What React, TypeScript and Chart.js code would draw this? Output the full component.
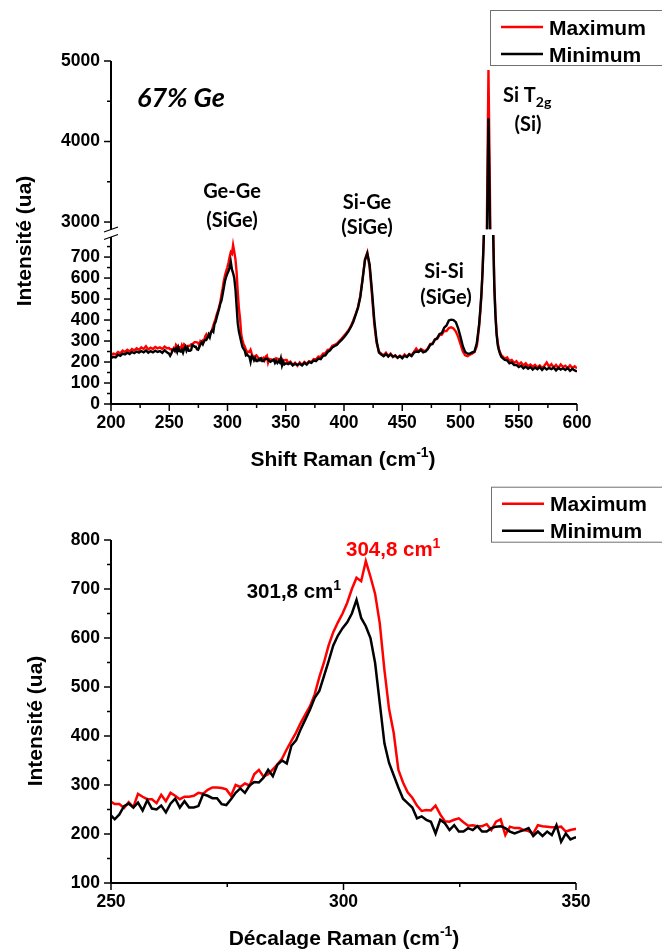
import React, { useEffect, useRef } from "react";
import { Chart, registerables } from "chart.js";

Chart.register(...registerables);

const RED = "#ff0000";
const BLACK = "#000000";
const SANS = '"Liberation Sans", Arial, sans-serif';
const CAL = 'Lato, "Open Sans", sans-serif';

// ---------- data: zoomed region (shared by both panels), shift = 249.8 + i ----------
const ZOOM_START = 249.8;
const ZOOM_STEP = 1;
const ZOOM_MAX = [
  267, 261, 261, 253, 265, 255, 282, 276, 271, 271,
  263, 280, 267, 284, 278, 271, 276, 276, 278, 284,
  282, 290, 295, 295, 294, 291, 278, 300, 296, 303,
  299, 322, 331, 317, 322, 332, 342, 354, 373, 390,
  407, 427, 444, 461, 485, 520, 550, 585, 612, 632,
  650, 672, 700, 723, 716, 757, 725, 690, 630, 535,
  455, 406, 331, 305, 285, 274, 258, 247, 249, 248,
  258, 240, 226, 225, 229, 232, 224, 217, 218, 216,
  216, 220, 208, 225, 230, 198, 215, 212, 212, 208,
  206, 201, 218, 216, 215, 214, 214, 215, 205, 208,
  210, 210,
];
const ZOOM_MIN = [
  240, 230, 240, 257, 262, 254, 264, 248, 269, 252,
  250, 258, 244, 262, 272, 254, 267, 254, 254, 257,
  281, 278, 273, 273, 261, 259, 271, 284, 293, 284,
  299, 306, 305, 315, 331, 318, 342, 350, 344, 380,
  391, 414, 434, 454, 478, 492, 522, 553, 585, 605,
  620, 632, 650, 678, 641, 624, 600, 549, 467, 385,
  345, 320, 295, 272, 263, 254, 232, 236, 229, 225,
  201, 229, 222, 208, 218, 205, 205, 212, 208, 216,
  205, 205, 212, 215, 216, 212, 205, 201, 205, 208,
  212, 196, 205, 196, 205, 198, 218, 184, 201, 189,
  193, 193,
];

// ---------- data: wide spectrum (top panel) outside the zoomed region ----------
const WIDE_A_START = 200;
const WIDE_A_STEP = 2;
const WIDE_A_MAX = [232, 240, 236, 248, 242, 255, 248, 258, 250, 262, 255, 265, 258, 270, 262, 275, 260, 268, 262, 272, 265, 270, 262, 274, 266];
const WIDE_A_MIN = [218, 225, 222, 235, 230, 240, 236, 244, 238, 248, 242, 250, 245, 252, 246, 255, 244, 252, 246, 254, 248, 252, 244, 256, 246];

const WIDE_C_START = 352;
const WIDE_C_STEP = 2;
const WIDE_C_MAX = [
  195, 202, 186, 196, 182, 198, 186, 200, 192, 204,
  200, 214, 212, 226, 224, 240, 242, 258, 260, 278,
  282, 288, 300, 312, 325, 338, 352, 372, 398, 428,
  462, 515, 600, 690, 722, 650, 520, 380, 290, 250,
  240, 232, 244, 228, 240, 224, 232, 220, 230, 222,
  236, 226, 238, 232, 248, 264, 250, 262, 256, 252,
  266, 286, 288, 308, 310, 328, 330, 348, 348, 362,
  365, 360, 345, 320, 285, 250, 232, 228, 235, 240,
  248, 275,
];
const WIDE_C_MIN = [
  190, 196, 184, 192, 186, 192, 184, 196, 188, 200,
  196, 208, 204, 216, 214, 230, 232, 248, 256, 270,
  276, 282, 295, 305, 318, 332, 348, 368, 392, 425,
  458, 510, 595, 685, 717, 665, 540, 400, 300, 245,
  236, 228, 238, 226, 236, 226, 230, 220, 228, 218,
  230, 224, 236, 228, 244, 250, 248, 258, 246, 250,
  262, 282, 286, 306, 314, 334, 338, 364, 374, 398,
  402, 400, 390, 360, 320, 275, 248, 240, 240, 246,
  250, 290,
];

const WIDE_D_START = 515;
const WIDE_D_STEP = 1;
const WIDE_D_MAX = [320, 370, 440, 520, 640, 800, 1150, 2000, 3500, 4888, 3700, 2400, 1150, 850, 580, 430, 340, 290, 262, 245, 232];
const WIDE_D_MIN = [335, 380, 450, 530, 640, 790, 1100, 1800, 3100, 4288, 3300, 2100, 1050, 820, 560, 420, 330, 280, 255, 238, 225];

const WIDE_E_START = 536;
const WIDE_E_STEP = 2;
const WIDE_E_MAX = [228, 215, 222, 205, 210, 196, 204, 188, 198, 184, 194, 180, 188, 178, 186, 174, 184, 172, 182, 198, 178, 190, 174, 186, 172, 188, 176, 182, 170, 184, 172, 180, 170];
const WIDE_E_MIN = [220, 210, 208, 194, 198, 186, 186, 176, 182, 170, 178, 168, 176, 164, 174, 166, 176, 162, 174, 164, 172, 166, 174, 160, 172, 164, 170, 162, 172, 158, 168, 160, 155];

// ---------- ticks ----------
const TOP_X_TICKS = [200, 250, 300, 350, 400, 450, 500, 550, 600];
const TOP_X_MINOR = [225, 275, 325, 375, 425, 475, 525, 575];
const TOP_LOW_TICKS = [0, 100, 200, 300, 400, 500, 600, 700];
const TOP_LOW_MINOR = [50, 150, 250, 350, 450, 550, 650, 750];
const TOP_HIGH_TICKS = [3000, 4000, 5000];
const TOP_HIGH_MINOR = [3500, 4500];
const BOT_X_TICKS = [250, 300, 350];
const BOT_X_MINOR = [275, 325];
const BOT_Y_TICKS = [100, 200, 300, 400, 500, 600, 700, 800];
const BOT_Y_MINOR = [150, 250, 350, 450, 550, 650, 750];

const LEGEND_LABELS = ["Maximum", "Minimum"];
const LEGEND_COLORS = [RED, BLACK];

function pts(start: number, step: number, vals: number[]) {
  return vals.map((y, i) => ({ x: Math.round((start + i * step) * 100) / 100, y }));
}

const TOP_MAX = [
  ...pts(WIDE_A_START, WIDE_A_STEP, WIDE_A_MAX),
  ...pts(ZOOM_START, ZOOM_STEP, ZOOM_MAX),
  ...pts(WIDE_C_START, WIDE_C_STEP, WIDE_C_MAX),
  ...pts(WIDE_D_START, WIDE_D_STEP, WIDE_D_MAX),
  ...pts(WIDE_E_START, WIDE_E_STEP, WIDE_E_MAX),
];
const TOP_MIN = [
  ...pts(WIDE_A_START, WIDE_A_STEP, WIDE_A_MIN),
  ...pts(ZOOM_START, ZOOM_STEP, ZOOM_MIN),
  ...pts(WIDE_C_START, WIDE_C_STEP, WIDE_C_MIN),
  ...pts(WIDE_D_START, WIDE_D_STEP, WIDE_D_MIN),
  ...pts(WIDE_E_START, WIDE_E_STEP, WIDE_E_MIN),
];
const BOT_MAX = pts(ZOOM_START, ZOOM_STEP, ZOOM_MAX);
const BOT_MIN = pts(ZOOM_START, ZOOM_STEP, ZOOM_MIN);

// ---------- drawing helpers ----------
type Part = { t: string; font: string; dy?: number };

function drawParts(ctx: CanvasRenderingContext2D, parts: Part[], x: number, y: number, align: "left" | "center", color: string) {
  ctx.save();
  ctx.fillStyle = color;
  ctx.textBaseline = "alphabetic";
  ctx.textAlign = "left";
  let total = 0;
  const widths = parts.map((p) => {
    ctx.font = p.font;
    const w = ctx.measureText(p.t).width;
    total += w;
    return w;
  });
  let cx = align === "left" ? x : x - total / 2;
  parts.forEach((p, i) => {
    ctx.font = p.font;
    ctx.fillText(p.t, cx, y + (p.dy || 0));
    cx += widths[i];
  });
  ctx.restore();
}

function line(ctx: CanvasRenderingContext2D, x1: number, y1: number, x2: number, y2: number) {
  ctx.beginPath();
  ctx.moveTo(x1, y1);
  ctx.lineTo(x2, y2);
  ctx.stroke();
}

function drawLegend(ctx: CanvasRenderingContext2D, left: number, top: number) {
  ctx.save();
  ctx.strokeStyle = "#707070";
  ctx.lineWidth = 1;
  ctx.strokeRect(left + 0.5, top + 0.5, 200, 55);
  const rows = [17, 44];
  LEGEND_LABELS.forEach((lab, i) => {
    ctx.strokeStyle = LEGEND_COLORS[i];
    ctx.lineWidth = 2.5;
    line(ctx, left + 11, top + rows[i], left + 53, top + rows[i]);
    ctx.fillStyle = "#000";
    ctx.font = `bold 21px ${SANS}`;
    ctx.textBaseline = "alphabetic";
    ctx.textAlign = "left";
    ctx.fillText(lab, left + 59, top + rows[i] + 7.5);
  });
  ctx.restore();
}

function drawYTitle(ctx: CanvasRenderingContext2D, baselineX: number, centerY: number) {
  ctx.save();
  ctx.translate(baselineX, centerY);
  ctx.rotate(-Math.PI / 2);
  drawParts(ctx, [{ t: "Intensité (ua)", font: `bold 21px ${SANS}` }], 0, 0, "center", "#000");
  ctx.restore();
}

function xTitle(ctx: CanvasRenderingContext2D, text: string, cx: number, baseline: number) {
  drawParts(
    ctx,
    [
      { t: text + " (cm", font: `bold 21px ${SANS}` },
      { t: "-1", font: `bold 14px ${SANS}`, dy: -9 },
      { t: ")", font: `bold 21px ${SANS}` },
    ],
    cx,
    baseline,
    "center",
    "#000"
  );
}

const clipPlugin = {
  id: "segmentClip",
  beforeDatasetDraw(chart: any, args: any) {
    const meta = chart.getDatasetMeta(args.index);
    const ys = meta.yScale;
    const ca = chart.chartArea;
    let top = ys.top;
    let bottom = ys.bottom;
    if (ys.id === "yHigh") bottom = ys.bottom - 3.2;
    if (ys.id === "yLow") top = ys.top + 2.5;
    const ctx = chart.ctx;
    ctx.save();
    ctx.beginPath();
    ctx.rect(ca.left, top, ca.right - ca.left, bottom - top);
    ctx.clip();
  },
  afterDatasetDraw(chart: any) {
    chart.ctx.restore();
  },
};

const topPainter = {
  id: "topPainter",
  afterDraw(chart: any) {
    const ctx: CanvasRenderingContext2D = chart.ctx;
    const x = chart.scales.x;
    const yl = chart.scales.yLow;
    const yh = chart.scales.yHigh;
    const left = x.left;
    const bottom = yl.bottom;
    const B = yl.top;
    ctx.save();
    ctx.strokeStyle = "#000";
    ctx.lineWidth = 2;
    line(ctx, left - 1, bottom, x.right, bottom);
    line(ctx, left, bottom + 1, left, B + 4.5);
    line(ctx, left, yh.top, left, B - 3);
    ctx.lineWidth = 1.5;
    TOP_X_TICKS.forEach((v) => { const p = x.getPixelForValue(v); line(ctx, p, bottom, p, bottom + 7); });
    TOP_X_MINOR.forEach((v) => { const p = x.getPixelForValue(v); line(ctx, p, bottom, p, bottom + 4); });
    TOP_LOW_TICKS.forEach((v) => { const p = yl.getPixelForValue(v); line(ctx, left, p, left - 7, p); });
    TOP_LOW_MINOR.forEach((v) => { const p = yl.getPixelForValue(v); line(ctx, left, p, left - 4, p); });
    TOP_HIGH_TICKS.forEach((v) => { const p = yh.getPixelForValue(v); line(ctx, left, p, left - 7, p); });
    TOP_HIGH_MINOR.forEach((v) => { const p = yh.getPixelForValue(v); line(ctx, left, p, left - 4, p); });
    // axis break marks
    ctx.lineWidth = 1.3;
    line(ctx, left - 7, B - 0.5, left + 7, B - 5.5);
    line(ctx, left - 7, B + 7, left + 7, B + 2);
    ctx.restore();

    drawYTitle(ctx, 31, 241);
    xTitle(ctx, "Shift Raman", 343, 466);

    drawParts(ctx, [{ t: "67% Ge", font: `italic bold 27px ${CAL}` }], 137, 107, "left", "#000");

    const lab = `bold 20px ${CAL}`;
    drawParts(ctx, [{ t: "Ge-Ge", font: lab }], 232, 198, "center", "#000");
    drawParts(ctx, [{ t: "(SiGe)", font: lab }], 232, 226.5, "center", "#000");
    drawParts(ctx, [{ t: "Si-Ge", font: lab }], 367, 208.5, "center", "#000");
    drawParts(ctx, [{ t: "(SiGe)", font: lab }], 367, 233.5, "center", "#000");
    drawParts(ctx, [{ t: "Si-Si", font: lab }], 444, 277.5, "center", "#000");
    drawParts(ctx, [{ t: "(SiGe)", font: lab }], 446, 303.5, "center", "#000");
    drawParts(ctx, [{ t: "Si T", font: lab }, { t: "2g", font: `bold 14px ${CAL}`, dy: 5 }], 503, 101.7, "left", "#000");
    drawParts(ctx, [{ t: "(Si)", font: lab }], 528, 130.7, "center", "#000");

    drawLegend(ctx, 490, 10);
  },
};

const bottomPainter = {
  id: "bottomPainter",
  afterDraw(chart: any) {
    const ctx: CanvasRenderingContext2D = chart.ctx;
    const x = chart.scales.x;
    const y = chart.scales.y;
    const left = x.left;
    const bottom = y.bottom;
    ctx.save();
    ctx.strokeStyle = "#000";
    ctx.lineWidth = 2;
    line(ctx, left - 1, bottom, x.right, bottom);
    line(ctx, left, bottom + 1, left, y.top);
    ctx.lineWidth = 1.5;
    BOT_X_TICKS.forEach((v) => { const p = x.getPixelForValue(v); line(ctx, p, bottom, p, bottom + 7); });
    BOT_X_MINOR.forEach((v) => { const p = x.getPixelForValue(v); line(ctx, p, bottom, p, bottom + 4); });
    BOT_Y_TICKS.forEach((v) => { const p = y.getPixelForValue(v); line(ctx, left, p, left - 7, p); });
    BOT_Y_MINOR.forEach((v) => { const p = y.getPixelForValue(v); line(ctx, left, p, left - 4, p); });
    ctx.restore();

    drawYTitle(ctx, 41.5, 241);
    xTitle(ctx, "Décalage Raman", 344, 465);

    const f = `bold 20.5px ${SANS}`;
    const s = `bold 14px ${SANS}`;
    drawParts(ctx, [{ t: "304,8 cm", font: f }, { t: "1", font: s, dy: -8 }], 346, 75.7, "left", RED);
    drawParts(ctx, [{ t: "301,8 cm", font: f }, { t: "1", font: s, dy: -8 }], 246.7, 118.3, "left", BLACK);

    drawLegend(ctx, 491, 6.7);
  },
};

const tickFont = { family: SANS, size: 17.5, weight: "bold" as const };

function yScale(min: number, max: number, ticks: number[], extra: any = {}) {
  return {
    type: "linear",
    position: "left",
    min,
    max,
    afterBuildTicks: (s: any) => { s.ticks = ticks.map((v) => ({ value: v })); },
    afterFit: (s: any) => { s.width = 111; },
    grid: { display: false, drawTicks: false },
    border: { display: false },
    ticks: { font: tickFont, color: "#000", padding: 11, autoSkip: false, callback: (v: any) => String(v) },
    ...extra,
  };
}

function xScale(min: number, max: number, ticks: number[]) {
  return {
    type: "linear",
    position: "bottom",
    min,
    max,
    afterBuildTicks: (s: any) => { s.ticks = ticks.map((v) => ({ value: v })); },
    afterFit: (s: any) => { s.height = 30; },
    grid: { display: false, drawTicks: false },
    border: { display: false },
    ticks: { font: tickFont, color: "#000", padding: 9, autoSkip: false, maxRotation: 0, callback: (v: any) => String(v) },
  };
}

function ds(label: string, data: any[], color: string, yAxisID: string, width: number, order: number) {
  return {
    label,
    data,
    borderColor: color,
    backgroundColor: color,
    borderWidth: width,
    pointRadius: 0,
    tension: 0,
    fill: false,
    yAxisID,
    order,
  };
}

export default function App() {
  const topRef = useRef<HTMLCanvasElement>(null);
  const botRef = useRef<HTMLCanvasElement>(null);

  useEffect(() => {
    const common = {
      animation: false,
      responsive: false,
      events: [],
      plugins: { legend: { display: false }, tooltip: { enabled: false } },
    };
    const top = new Chart(topRef.current as HTMLCanvasElement, {
      type: "line",
      data: {
        datasets: [
          ds("Maximum", TOP_MAX, RED, "yLow", 2.4, 1),
          ds("Minimum", TOP_MIN, BLACK, "yLow", 2.4, 0),
          ds("Maximum", TOP_MAX, RED, "yHigh", 2.4, 1),
          ds("Minimum", TOP_MIN, BLACK, "yHigh", 2.4, 0),
        ],
      },
      options: {
        ...common,
        layout: { padding: { top: 61, right: 85, bottom: 46, left: 0 } },
        scales: {
          x: xScale(200, 600, TOP_X_TICKS),
          yLow: yScale(0, 817, TOP_LOW_TICKS, { stack: "raman", stackWeight: 1 }),
          yHigh: yScale(2870, 5000, TOP_HIGH_TICKS, { stack: "raman", stackWeight: 1 }),
        },
      } as any,
      plugins: [clipPlugin, topPainter],
    } as any);

    const bot = new Chart(botRef.current as HTMLCanvasElement, {
      type: "line",
      data: {
        datasets: [
          ds("Maximum", BOT_MAX, RED, "y", 2.5, 1),
          ds("Minimum", BOT_MIN, BLACK, "y", 2.5, 0),
        ],
      },
      options: {
        ...common,
        layout: { padding: { top: 60, right: 86, bottom: 38, left: 0 } },
        scales: {
          x: xScale(250, 350, BOT_X_TICKS),
          y: yScale(100, 800, BOT_Y_TICKS),
        },
      } as any,
      plugins: [bottomPainter],
    } as any);

    let alive = true;
    const fonts: any = (document as any).fonts;
    if (fonts && fonts.ready) {
      fonts.ready.then(() => {
        if (alive) {
          top.update();
          bot.update();
        }
      });
    }
    return () => {
      alive = false;
      top.destroy();
      bot.destroy();
    };
  }, []);

  return (
    <div style={{ position: "absolute", left: 0, top: 0, width: 662, height: 951, background: "#fff" }}>
      <canvas ref={topRef} width={662} height={480} style={{ position: "absolute", left: 0, top: 0, display: "block" }} />
      <canvas ref={botRef} width={662} height={471} style={{ position: "absolute", left: 0, top: 480, display: "block" }} />
    </div>
  );
}
